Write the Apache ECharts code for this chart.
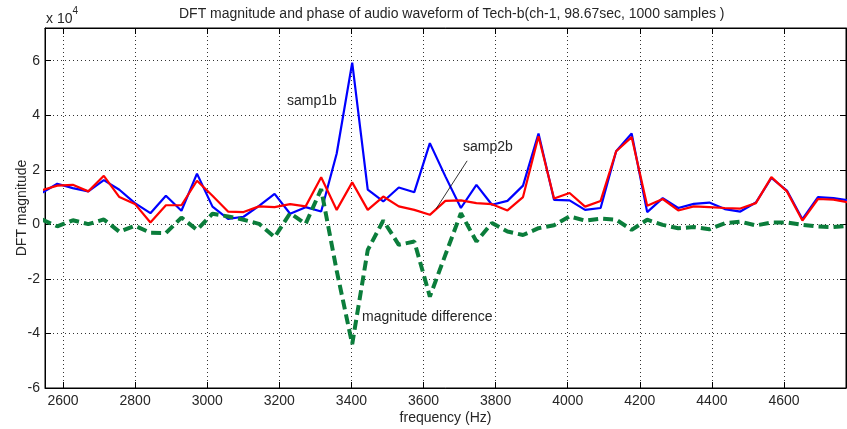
<!DOCTYPE html>
<html>
<head>
<meta charset="utf-8">
<script src="https://cdn.jsdelivr.net/npm/echarts@6/dist/echarts.min.js"></script>
<style>
html, body { margin: 0; padding: 0; background: #fff; }
#chart { width: 847px; height: 429px; }
</style>
</head>
<body>
<div id="chart"></div>
<script>
// DFT bin frequencies (Hz), bins 59..111
var freqs = [2540.9, 2584.0, 2627.1, 2670.1, 2713.2, 2756.3, 2799.3, 2842.4, 2885.4, 2928.5,
             2971.6, 3014.6, 3057.7, 3100.8, 3143.8, 3186.9, 3230.0, 3273.0, 3316.1, 3359.2,
             3402.2, 3445.3, 3488.4, 3531.4, 3574.5, 3617.6, 3660.6, 3703.7, 3746.8, 3789.8,
             3832.9, 3876.0, 3919.0, 3962.1, 4005.2, 4048.2, 4091.3, 4134.4, 4177.4, 4220.5,
             4263.6, 4306.6, 4349.7, 4392.8, 4435.8, 4478.9, 4521.9, 4565.0, 4608.1, 4651.1,
             4694.2, 4737.3, 4780.3];

var samp1b = [11500, 14900, 13300, 12100, 16200, 12700, 7800, 4100, 10500, 5000,
              18600, 6500, 2000, 2800, 6800, 11200, 3900, 6300, 4700, 26000,
              59300, 12700, 8400, 13500, 11800, 29800, 17600, 6000, 14500, 7200,
              8600, 14200, 33300, 9000, 8800, 5300, 6000, 26800, 33300, 4500,
              9600, 6000, 7500, 8000, 5600, 4700, 8000, 17000, 12400, 1900,
              10000, 9600, 8800];

var samp2b = [12500, 14200, 14500, 12100, 17800, 10000, 7500, 700, 7000, 7000,
              16000, 10500, 4700, 4500, 6600, 6300, 7400, 6600, 17300, 5300,
              15400, 5300, 10200, 6600, 5300, 3500, 8600, 8800, 7800, 7400,
              5100, 10000, 32300, 9500, 11500, 6500, 8600, 26800, 32000, 6800,
              9300, 5100, 6600, 6300, 6000, 5800, 7800, 17300, 12100, 1400,
              9300, 9100, 8000];

var magDiff = [1800, -700, 1500, 100, 1800, -2700, -500, -3100, -3200, 2500,
               -2000, 3900, 2900, 1700, 200, -4700, 4100, 200, 12900, -17000,
               -43900, -9400, 1400, -7500, -6300, -26500, -11200, 4100, -6300, 500,
               -2600, -3900, -1400, -300, 2900, 1400, 2100, 1700, -2000, 1700,
               -200, -1400, -1000, -1800, 400, 1000, -400, 700, 700, -200,
               -800, -1000, -500];

var xTicks = [2600, 2800, 3000, 3200, 3400, 3600, 3800, 4000, 4200, 4400, 4600];

var chart = echarts.init(document.getElementById('chart'));

function pairs(ys) {
    return freqs.map(function (f, i) { return [f, ys[i]]; });
}

var font = "'Liberation Sans', Arial, sans-serif";
var ink = '#262626';
var gridDots = { color: '#333', width: 1, type: [1, 3] };

option = {
    animation: false,
    backgroundColor: '#fff',
    title: {
        text: 'DFT magnitude and phase of audio waveform of Tech-b(ch-1, 98.67sec, 1000 samples )',
        left: 179,
        top: 7,
        padding: 0,
        textStyle: { fontFamily: font, fontSize: 14, fontWeight: 'normal', color: ink }
    },
    grid: {
        left: 45, right: 1, top: 28, bottom: 41,
        outerBoundsMode: 'none',
        containLabel: false,
        show: true, borderColor: '#000', borderWidth: 1
    },
    xAxis: [{
        type: 'value',
        min: 2550,
        max: 4772,
        name: 'frequency (Hz)',
        nameLocation: 'middle',
        nameGap: 23,
        nameMoveOverlap: false,
        nameTextStyle: { fontFamily: font, fontSize: 14, color: ink },
        axisLine: { show: true, onZero: false, lineStyle: { color: '#000' } },
        axisTick: { inside: true, length: 6, customValues: xTicks, lineStyle: { color: '#000' } },
        axisLabel: {
            customValues: xTicks, margin: 6, fontFamily: font, fontSize: 14, color: ink,
            formatter: function (v) { return String(v); }
        },
        splitLine: { show: true, lineStyle: gridDots }
    }, {
        type: 'value',
        position: 'top',
        min: 2550,
        max: 4772,
        axisLine: { show: true, onZero: false, lineStyle: { color: '#000' } },
        axisTick: { inside: true, length: 6, customValues: xTicks, lineStyle: { color: '#000' } },
        axisLabel: { show: false },
        splitLine: { show: false }
    }],
    yAxis: [{
        type: 'value',
        min: -60000,
        max: 72000,
        interval: 20000,
        name: 'DFT magnitude',
        nameLocation: 'middle',
        nameGap: 16,
        nameMoveOverlap: false,
        nameTextStyle: { fontFamily: font, fontSize: 14, color: ink },
        axisLine: { show: true, onZero: false, lineStyle: { color: '#000' } },
        axisTick: { inside: true, length: 6, lineStyle: { color: '#000' } },
        axisLabel: {
            margin: 5, fontFamily: font, fontSize: 14, color: ink, showMaxLabel: false,
            formatter: function (v) { return v % 20000 === 0 ? String(v / 10000) : ''; }
        },
        splitLine: { show: true, lineStyle: gridDots }
    }, {
        type: 'value',
        position: 'right',
        min: -60000,
        max: 72000,
        interval: 20000,
        axisLine: { show: true, onZero: false, lineStyle: { color: '#000' } },
        axisTick: { inside: true, length: 6, lineStyle: { color: '#000' } },
        axisLabel: { show: false },
        splitLine: { show: false }
    }],
    graphic: [
        { type: 'text', left: 46, top: 6, style: {
            text: '{a|x 10}{b|4}', fill: ink,
            rich: { a: { fontFamily: font, fontSize: 14, color: ink, padding: [6, 0, 0, 0] },
                    b: { fontFamily: font, fontSize: 10, color: ink, verticalAlign: 'top' } } } },
        { type: 'text', left: 287, top: 94, style: { text: 'samp1b', font: '14px ' + font, fill: ink } },
        { type: 'text', left: 463, top: 140, style: { text: 'samp2b', font: '14px ' + font, fill: ink } },
        { type: 'text', left: 362, top: 310, style: { text: 'magnitude difference', font: '14px ' + font, fill: ink } }
    ],
    series: [{
        name: 'samp1b',
        type: 'line',
        data: pairs(samp1b),
        symbol: 'none',
        z: 2,
        lineStyle: { color: '#0000ff', width: 2.2 }
    }, {
        name: 'samp2b',
        type: 'line',
        data: pairs(samp2b),
        symbol: 'none',
        z: 3,
        lineStyle: { color: '#ff0000', width: 2.2 },
        markLine: {
            silent: true,
            symbol: 'none',
            label: { show: false },
            lineStyle: { color: '#000', width: 0.8, type: 'solid' },
            data: [[{ coord: [3721, 23300] }, { coord: [3635, 5700] }]]
        }
    }, {
        name: 'magnitude difference',
        type: 'line',
        data: pairs(magDiff),
        symbol: 'none',
        z: 4,
        lineStyle: { color: '#0b7d3b', width: 4, type: [10, 5] }
    }]
};

chart.setOption(option);
</script>
</body>
</html>
